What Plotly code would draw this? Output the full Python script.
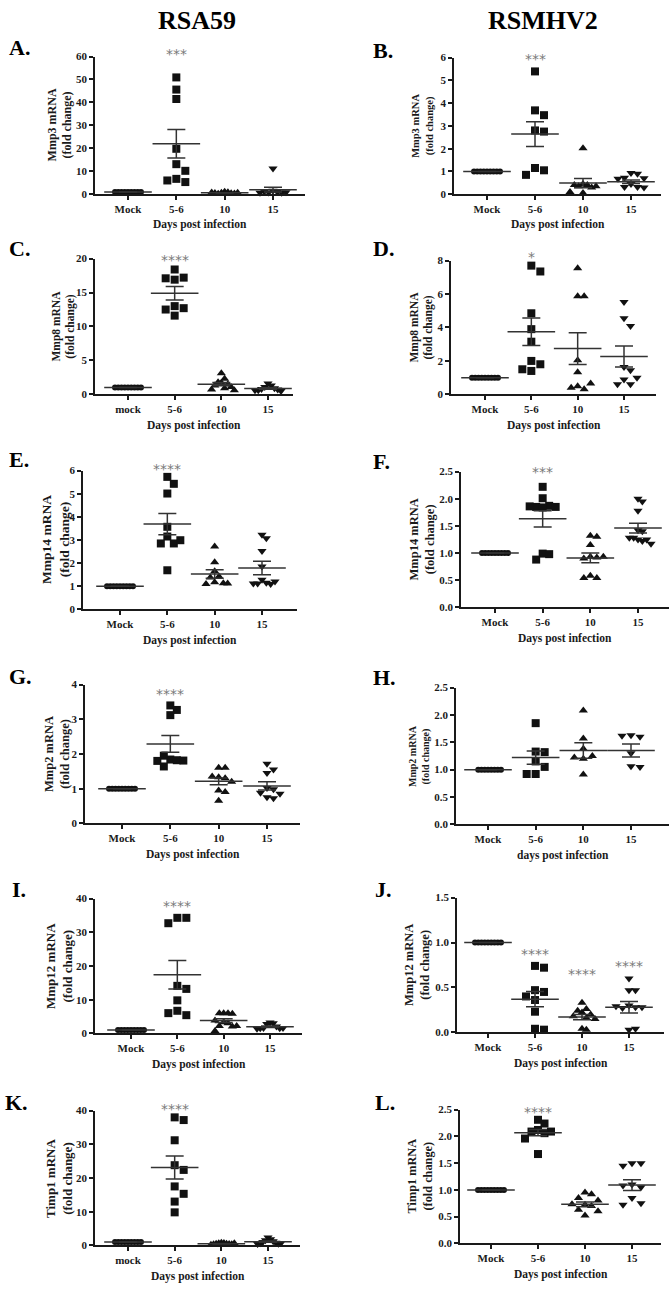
import plotly.graph_objects as go

W, H = 672, 1290
SERIF = "Liberation Serif"
INK = "#1a1a1a"

# ------------------------------------------------------------------ data
CATS = ["Mock", "5-6", "10", "15"]
CATS_LC = ["mock", "5-6", "10", "15"]

A_mock = [1.0, 1.0, 1.0, 1.0, 1.0, 1.0, 1.0, 1.0, 1.0]
A_d56 = [50.9, 45.6, 41.5, 19.8, 13.1, 10.2, 6.7, 5.3, 6.0]
A_d10 = [1.1, 0.9, 0.6, 0.4, 0.2, 0.3, 0.5, 0.7, 0.8]
A_d15 = [11.2, 1.5, 1.0, 0.8, 0.6, 1.2, 0.9, 0.7]
A_mean = [1.0, 22.0, 0.6, 2.0]
A_sem = [0.0, 6.2, 0.1, 1.0]

B_mock = [1.0, 1.0, 1.0, 1.0, 1.0, 1.0, 1.0, 1.0, 1.0]
B_d56 = [5.39, 3.68, 3.47, 2.8, 2.75, 1.15, 1.05, 0.85]
B_d10 = [2.02, 0.45, 0.4, 0.35, 0.3, 0.4, 0.35, 0.1, 0.05]
B_d15 = [0.93, 0.9, 0.72, 0.7, 0.68, 0.45, 0.32, 0.32, 0.3]
B_mean = [1.0, 2.64, 0.49, 0.55]
B_sem = [0.0, 0.54, 0.2, 0.08]

C_mock = [1.0, 1.0, 1.0, 1.0, 1.0, 1.0, 1.0, 1.0, 1.0]
C_d56 = [18.4, 17.2, 16.9, 17.1, 13.0, 12.7, 12.5, 11.6]
C_d10 = [3.1, 2.3, 1.8, 1.7, 1.5, 1.3, 1.1, 0.9, 0.7, 0.6]
C_d15 = [1.6, 1.3, 1.1, 0.9, 0.8, 0.7, 0.6, 0.5, 0.6]
C_mean = [1.0, 14.9, 1.5, 0.87]
C_sem = [0.0, 1.0, 0.25, 0.12]

D_mock = [1.0, 1.0, 1.0, 1.0, 1.0, 1.0, 1.0, 1.0, 1.0]
D_d56 = [7.7, 7.35, 4.85, 3.9, 3.15, 2.0, 1.8, 1.4, 1.5]
D_d10 = [7.55, 5.87, 5.87, 2.04, 1.32, 0.49, 0.3, 0.4, 0.65]
D_d15 = [5.53, 4.55, 4.09, 1.64, 1.44, 0.89, 0.6, 0.6, 0.99]
D_mean = [1.0, 3.74, 2.74, 2.26]
D_sem = [0.0, 0.82, 0.95, 0.63]

E_mock = [1.0, 1.0, 1.0, 1.0, 1.0, 1.0, 1.0, 1.0, 1.0]
E_d56 = [5.73, 5.43, 5.01, 3.57, 3.15, 2.85, 2.85, 2.99, 1.69]
E_d10 = [2.72, 2.04, 1.65, 1.42, 1.38, 1.17, 1.13, 1.10, 1.12]
E_d15 = [3.23, 3.07, 2.52, 1.85, 1.28, 1.15, 1.12, 1.10, 1.12, 1.20]
E_mean = [1.0, 3.69, 1.53, 1.79]
E_sem = [0.0, 0.46, 0.18, 0.29]

F_mock = [1.0, 1.0, 1.0, 1.0, 1.0, 1.0, 1.0, 1.0, 1.0]
F_d56 = [2.22, 2.01, 1.87, 1.85, 1.85, 1.86, 1.84, 0.99, 0.98, 0.88]
F_d10 = [1.32, 1.30, 1.15, 0.93, 0.92, 0.90, 0.93, 0.58, 0.54, 0.54]
F_d15 = [2.0, 1.95, 1.78, 1.42, 1.40, 1.28, 1.25, 1.22, 1.25, 1.28, 1.17]
F_mean = [1.0, 1.63, 0.91, 1.46]
F_sem = [0.0, 0.15, 0.09, 0.09]

G_mock = [1.0, 1.0, 1.0, 1.0, 1.0, 1.0, 1.0, 1.0, 1.0]
G_d56 = [3.4, 3.27, 3.12, 1.84, 1.82, 1.95, 1.64, 1.81, 1.8]
G_d10 = [1.6, 1.6, 1.35, 1.33, 1.3, 1.2, 0.95, 0.9, 0.65]
G_d15 = [1.72, 1.55, 1.45, 1.02, 0.98, 0.88, 0.85, 0.75, 0.72]
G_mean = [1.0, 2.29, 1.21, 1.08]
G_sem = [0.0, 0.24, 0.1, 0.12]

H_mock = [1.0, 1.0, 1.0, 1.0, 1.0, 1.0, 1.0, 1.0]
H_d56 = [1.85, 1.33, 1.32, 1.15, 1.05, 0.92, 0.92]
H_d10 = [2.08, 1.57, 1.38, 1.25, 1.2, 1.22, 0.91]
H_d15 = [1.63, 1.6, 1.62, 1.3, 1.06, 1.05]
H_mean = [1.0, 1.22, 1.35, 1.35]
H_sem = [0.0, 0.12, 0.14, 0.12]

I_mock = [1.0, 1.0, 1.0, 1.0, 1.0, 1.0, 1.0, 1.0, 1.0]
I_d56 = [34.3, 34.3, 32.7, 14.1, 13.2, 9.8, 6.7, 5.4, 6.0]
I_d10 = [6.0, 6.0, 6.0, 5.8, 3.8, 3.3, 3.0, 2.2, 2.0, 2.2, 0.7]
I_d15 = [3.2, 3.0, 2.8, 2.0, 1.6, 1.5, 1.5, 1.6, 1.4]
I_mean = [1.0, 17.4, 3.8, 1.95]
I_sem = [0.0, 4.2, 0.55, 0.2]

J_mock = [1.0, 1.0, 1.0, 1.0, 1.0, 1.0, 1.0, 1.0, 1.0]
J_d56 = [0.74, 0.72, 0.47, 0.45, 0.40, 0.36, 0.23, 0.04, 0.03]
J_d10 = [0.33, 0.26, 0.24, 0.22, 0.20, 0.18, 0.16, 0.15, 0.04, 0.03]
J_d15 = [0.60, 0.47, 0.47, 0.30, 0.28, 0.27, 0.28, 0.29, 0.03, 0.04]
J_mean = [1.0, 0.37, 0.17, 0.28]
J_sem = [0.0, 0.085, 0.03, 0.065]

K_mock = [1.0, 1.0, 1.0, 1.0, 1.0, 1.0, 1.0, 1.0, 1.0]
K_d56 = [38.0, 37.2, 31.2, 23.8, 22.4, 17.5, 15.3, 13.0, 9.8]
K_d10 = [0.8, 0.7, 0.6, 0.5, 0.5, 0.4, 0.3, 0.3, 0.2, 0.6]
K_d15 = [2.3, 1.8, 1.5, 1.2, 1.0, 0.8, 0.6, 0.5, 0.4, 0.7]
K_mean = [1.0, 23.1, 0.5, 1.1]
K_sem = [0.0, 3.4, 0.07, 0.2]

L_mock = [1.0, 1.0, 1.0, 1.0, 1.0, 1.0, 1.0, 1.0, 1.0]
L_d56 = [2.31, 2.24, 2.12, 2.09, 2.09, 2.06, 1.96, 1.67]
L_d10 = [0.95, 0.92, 0.85, 0.80, 0.72, 0.70, 0.73, 0.63, 0.60, 0.52]
L_d15 = [1.50, 1.50, 1.45, 1.10, 1.05, 1.08, 0.85, 0.75, 0.72]
L_mean = [1.0, 2.07, 0.73, 1.09]
L_sem = [0.0, 0.06, 0.045, 0.1]

Y_TITLES = ["Mmp3 mRNA", "Mmp3 mRNA", "Mmp8 mRNA", "Mmp8 mRNA", "Mmp14 mRNA", "Mmp14 mRNA",
            "Mmp2 mRNA", "Mmp2 mRNA", "Mmp12 mRNA", "Mmp12 mRNA", "Timp1 mRNA", "Timp1 mRNA"]
Y_MAX = [60, 6, 20, 8, 6, 2.5, 4, 2.5, 40, 1.5, 40, 2.5]
Y_DTICK = [10, 1, 5, 2, 1, 0.5, 1, 0.5, 10, 0.5, 10, 0.5]
# significance labels: (category index, label, y value)
STARS = {
    "A": [(1, "***", 62.4)], "B": [(1, "***", 6.07)], "C": [(1, "****", 20.2)],
    "D": [(1, "*", 8.4)], "E": [(1, "****", 6.19)], "F": [(1, "***", 2.54)],
    "G": [(1, "****", 3.81)], "H": [],
    "I": [(1, "****", 38.7)],
    "J": [(1, "****", 0.91), (2, "****", 0.68), (3, "****", 0.77)],
    "K": [(1, "****", 41.5)], "L": [(1, "****", 2.52)],
}

PANELS = [
    ("A", [A_mock, A_d56, A_d10, A_d15], A_mean, A_sem, CATS, "Days post infection"),
    ("B", [B_mock, B_d56, B_d10, B_d15], B_mean, B_sem, CATS, "Days post infection"),
    ("C", [C_mock, C_d56, C_d10, C_d15], C_mean, C_sem, CATS_LC, "Days post infection"),
    ("D", [D_mock, D_d56, D_d10, D_d15], D_mean, D_sem, CATS, "Days post infection"),
    ("E", [E_mock, E_d56, E_d10, E_d15], E_mean, E_sem, CATS, "Days post infection"),
    ("F", [F_mock, F_d56, F_d10, F_d15], F_mean, F_sem, CATS, "Days post infection"),
    ("G", [G_mock, G_d56, G_d10, G_d15], G_mean, G_sem, CATS, "Days post infection"),
    ("H", [H_mock, H_d56, H_d10, H_d15], H_mean, H_sem, CATS, "days post infection"),
    ("I", [I_mock, I_d56, I_d10, I_d15], I_mean, I_sem, CATS, "Days post infection"),
    ("J", [J_mock, J_d56, J_d10, J_d15], J_mean, J_sem, CATS, "Days post infection"),
    ("K", [K_mock, K_d56, K_d10, K_d15], K_mean, K_sem, CATS_LC, "Days post infection"),
    ("L", [L_mock, L_d56, L_d10, L_d15], L_mean, L_sem, CATS, "Days post infection"),
]

# ------------------------------------------------------------------ layout geometry (pixels)
GEOM = {
    "A": dict(l=95, r=305, t=51, b=190, c0=128, c3=273, ytx=60, yts=12, lx=7, ly=42),
    "B": dict(l=454, r=661, t=52, b=190, c0=487, c3=631, ytx=423, yts=10.5, lx=371, ly=45),
    "C": dict(l=95, r=293, t=255, b=392, c0=128, c3=268, ytx=64, yts=11.5, lx=7, ly=245),
    "D": dict(l=451, r=656, t=257, b=392, c0=485, c3=624, ytx=422, yts=11.5, lx=371, ly=245),
    "E": dict(l=83, r=297, t=469, b=609, c0=120, c3=262, ytx=56, yts=13.5, lx=7, ly=458),
    "F": dict(l=461, r=669, t=470, b=607, c0=495, c3=638, ytx=422, yts=12.5, lx=371, ly=460),
    "G": dict(l=85, r=300, t=685, b=825, c0=122, c3=267, ytx=57, yts=12.5, lx=7, ly=677),
    "H": dict(l=456, r=669, t=688, b=826, c0=488, c3=631, ytx=420, yts=10, lx=371, ly=678),
    "I": dict(l=95, r=302, t=901, b=1037, c0=131, c3=270, ytx=59, yts=13, lx=10, ly=892),
    "J": dict(l=457, r=664, t=900, b=1036, c0=488, c3=629, ytx=417, yts=12.5, lx=373, ly=892),
    "K": dict(l=95, r=300, t=1115, b=1251, c0=128, c3=268, ytx=59, yts=13, lx=3, ly=1107),
    "L": dict(l=460, r=661, t=1114, b=1249, c0=491, c3=632, ytx=420, yts=12.3, lx=373, ly=1107),
}
SYMBOLS = ["circle", "square", "triangle-up", "triangle-down"]
SIZES = [6, 8, 8, 8]


def swarm(vals, ppu, d, maxw=13.0):
    """Simple beeswarm: horizontal pixel offsets so markers do not overlap."""
    placed, offs = [], []
    cands = [0.0]
    for j in range(1, 60):
        cands += [j * d / 2, -j * d / 2]
    for v in vals:
        y = v * ppu
        for c in cands:
            if all(not (abs(c - ox) < d - 0.01 and abs(y - oy) < d - 0.01) for ox, oy in placed):
                break
        placed.append((c, y))
        offs.append(c)
    m = max(abs(o) for o in offs) if offs else 0
    if m > maxw:
        offs = [o * maxw / m for o in offs]
    return offs


fig = go.Figure()
ann = []
tick_font = dict(family=SERIF, size=11, color=INK, weight="bold")

for i, (letter, groups, means, sems, cats, xtitle) in enumerate(PANELS):
    g = GEOM[letter]
    n = i + 1
    xa, ya = f"x{n}", f"y{n}"
    step = (g["c3"] - g["c0"]) / 3.0
    xmin = -(g["c0"] - g["l"]) / step
    xmax = 3 + (g["r"] - g["c3"]) / step
    ymax = Y_MAX[i]
    ppu = (g["b"] - g["t"]) / ymax

    for k, vals in enumerate(groups):
        offs = swarm(vals, ppu, d=9.0 if k else 6.0)
        fig.add_trace(go.Scatter(
            x=[k + o / step for o in offs], y=vals, mode="markers", xaxis=xa, yaxis=ya,
            marker=dict(symbol=SYMBOLS[k], size=SIZES[k], color="#111111", line=dict(width=0)),
            cliponaxis=False, showlegend=False, hoverinfo="y"))
    fig.add_trace(go.Scatter(
        x=[0, 1, 2, 3], y=means, mode="markers", xaxis=xa, yaxis=ya,
        marker=dict(symbol="line-ew", size=34, color="#333333", line=dict(width=1.5, color="#333333")),
        error_y=dict(type="data", array=sems, visible=True, width=9, thickness=1.5, color="#333333"),
        cliponaxis=False, showlegend=False, hoverinfo="y"))

    dom_x = [g["l"] / W, g["r"] / W]
    dom_y = [1 - g["b"] / H, 1 - g["t"] / H]
    fmt = ".1f" if Y_DTICK[i] < 1 else "d"
    fig.update_layout(**{
        f"xaxis{n}": dict(domain=dom_x, anchor=ya, range=[xmin, xmax], tickvals=[0, 1, 2, 3],
                          ticktext=cats, showline=True, linecolor=INK, linewidth=1.5,
                          ticks="outside", ticklen=4, tickwidth=1.5, tickcolor=INK,
                          showgrid=False, zeroline=False, tickfont=tick_font, fixedrange=True),
        f"yaxis{n}": dict(domain=dom_y, anchor=xa, range=[0, ymax], dtick=Y_DTICK[i], tick0=0,
                          tickformat=fmt, showline=True, linecolor=INK, linewidth=1.5,
                          ticks="outside", ticklen=4, tickwidth=1.5, tickcolor=INK,
                          showgrid=False, zeroline=False, tickfont=tick_font, fixedrange=True),
    })

    ann.append(dict(x=g["ytx"] / W, y=1 - (g["t"] + g["b"]) / 2 / H, xref="paper", yref="paper",
                    text=f"{Y_TITLES[i]}<br>(fold change)", textangle=-90, showarrow=False,
                    font=dict(family=SERIF, size=g["yts"], color=INK, weight="bold"),
                    xanchor="center", yanchor="middle"))
    ann.append(dict(x=(g["l"] + g["r"]) / 2 / W, y=1 - (g["b"] + 31) / H, xref="paper", yref="paper",
                    text=xtitle, showarrow=False,
                    font=dict(family=SERIF, size=11.5, color=INK, weight="bold"),
                    xanchor="center", yanchor="middle"))
    ann.append(dict(x=g["lx"] / W, y=1 - g["ly"] / H, xref="paper", yref="paper",
                    text=f"{letter}.", showarrow=False,
                    font=dict(family=SERIF, size=22, color="#000000", weight="bold"),
                    xanchor="left", yanchor="middle"))
    for (ci, lab, sy) in STARS[letter]:
        px = g["c0"] + ci * step
        py = g["b"] - sy * ppu + 3
        ann.append(dict(x=px / W, y=1 - py / H, xref="paper", yref="paper", text=lab,
                        showarrow=False,
                        font=dict(family="DejaVu Sans", size=14, color="#7a7a7a"),
                        xanchor="center", yanchor="middle"))

ann.append(dict(x=197 / W, y=1 - 15 / H, xref="paper", yref="paper", text="RSA59", showarrow=False,
                font=dict(family=SERIF, size=26, color="#000000", weight="bold"),
                xanchor="center", yanchor="middle"))
ann.append(dict(x=543 / W, y=1 - 15 / H, xref="paper", yref="paper", text="RSMHV2", showarrow=False,
                font=dict(family=SERIF, size=26, color="#000000", weight="bold"),
                xanchor="center", yanchor="middle"))

fig.update_layout(width=W, height=H, margin=dict(l=0, r=0, t=0, b=0),
                  paper_bgcolor="white", plot_bgcolor="white", annotations=ann,
                  showlegend=False)

fig.write_html("out.html", config={"displayModeBar": False},
               post_script="document.body.style.margin='0';")
